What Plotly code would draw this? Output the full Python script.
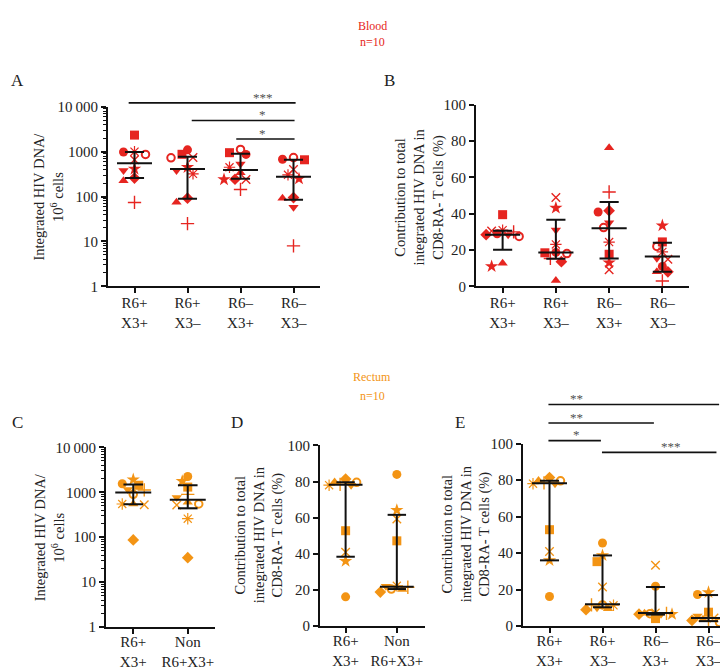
import math
import plotly.graph_objects as go

W, H = 728, 670
RED = "#E62520"
ORANGE = "#F39414"
INK = "#111111"
TXT = "#222222"
FONT = "Liberation Serif"

# ---------------- data ----------------
patient_symbols = ["circle", "square", "triangle-up", "triangle-down", "diamond",
                   "circle-open", "x-thin-open", "cross-thin-open", "asterisk-open", "star"]

blood_categories = ["R6+<br>X3+", "R6+<br>X3–", "R6–<br>X3+", "R6–<br>X3–"]
rectum_categories_two = ["R6+<br>X3+", "Non<br>R6+X3+"]
rectum_categories_four = ["R6+<br>X3+", "R6+<br>X3–", "R6–<br>X3+", "R6–<br>X3–"]

log_tick_vals = [1, 10, 100, 1000, 10000]
log_tick_text = ["1", "10", "100", "1000", "10\u2009000"]
pct_tick_vals = [0, 20, 40, 60, 80, 100]

# Panel A: integrated HIV DNA / 10^6 cells (blood)
a_r6p_x3p = [985, 2340, 226, 380, 259, 870, 660, 74, 1000, 412]
a_r6p_x3m = [1100, 875, 75, 380, 92, 730, 740, 25, 320, 450]
a_r6m_x3p = [870, 950, 340, 530, 243, 1120, 240, 144, 450, 240]
a_r6m_x3m = [680, 660, 92, 58, 95, 740, 400, 8, 305, 250]
a_median = [550, 410, 390, 275]
a_q1 = [260, 89, 250, 85]
a_q3 = [985, 770, 900, 660]

# Panel B: contribution (%) (blood)
b_r6p_x3p = [29, 39.5, 12.7, 28.5, 28.5, 27.5, 30.5, 30, 31, 11]
b_r6p_x3m = [18.7, 18.5, 3.2, 31, 13.6, 18.1, 48.9, 15.4, 23.1, 43.2]
b_r6m_x3p = [41, 17.7, 76.3, 35.1, 41.7, 32.4, 9.1, 52, 24.4, 13.1]
b_r6m_x3m = [11, 24.5, 8, 15.5, 8, 22, 15, 3, 19, 33.5]
b_median = [28.5, 18.7, 32, 16.5]
b_q1 = [20.2, 15.2, 15.4, 8]
b_q3 = [30.6, 36.7, 46.5, 24]

# Panel C: integrated HIV DNA / 10^6 cells (rectum)
c_r6p_x3p = [1550, 1440, 550, 1160, 87, 905, 530, 1130, 550, 1920]
c_non = [2260, 1310, 600, 770, 35, 550, 520, 900, 259, 1770]
c_median = [990, 680]
c_q1 = [540, 440]
c_q3 = [1490, 1440]

# Panel D: contribution (%) (rectum)
d_r6p_x3p = [16.2, 52.8, 79.8, 78, 81.4, 79.6, 40.9, 78.5, 78, 36]
d_non = [84, 47.2, 20.2, 22, 18.8, 20.5, 59.3, 21.5, 22.3, 64.2]
d_median = [78.2, 21.8]
d_q1 = [38.4, 20.5]
d_q3 = [79.6, 61.6]

# Panel E: contribution (%) by subset (rectum)
e_r6p_x3p = [16.2, 52.8, 79.8, 78, 81.4, 79.6, 40.9, 78.5, 78, 36]
e_r6p_x3m = [45.5, 35.3, 9.5, 10, 9, 11.6, 21.4, 11.6, 11.4, 38.7]
e_r6m_x3p = [21.8, 4.1, 7, 6.5, 6.5, 6.8, 33.3, 7, 7.3, 6.5]
e_r6m_x3m = [17.3, 7.6, 3.7, 5.5, 3.1, 2, 4.4, 2.9, 4.2, 18.5]
e_median = [78.2, 11.9, 7.1, 4.4]
e_q1 = [36, 10.3, 6.3, 2.7]
e_q3 = [79.6, 38.7, 21.4, 17]

# ---------------- layout geometry (pixels) ----------------
# box = (left, top, right, bottom)
panels = {
    "A": dict(ax="", box=(100, 93, 312, 277), xr=(-0.5, 3.5), log=True, yr=(0, 4),
              groups=[a_r6p_x3p, a_r6p_x3m, a_r6m_x3p, a_r6m_x3m],
              med=a_median, q1=a_q1, q3=a_q3, color=RED, cats=blood_categories, so=-3),
    "B": dict(ax="2", box=(468, 91, 681, 277), xr=(-0.5, 3.5), log=False, yr=(0, 100),
              groups=[b_r6p_x3p, b_r6p_x3m, b_r6m_x3p, b_r6m_x3m],
              med=b_median, q1=b_q1, q3=b_q3, color=RED, cats=blood_categories, so=-3),
    "C": dict(ax="3", box=(98, 442, 207, 626), xr=(-0.5, 1.5), log=True, yr=(0, 4),
              groups=[c_r6p_x3p, c_non],
              med=c_median, q1=c_q1, q3=c_q3, color=ORANGE, cats=rectum_categories_two, so=-5),
    "D": dict(ax="4", box=(312, 440, 417, 625), xr=(-0.5, 1.55), log=False, yr=(0, 100),
              groups=[d_r6p_x3p, d_non],
              med=d_median, q1=d_q1, q3=d_q3, color=ORANGE, cats=rectum_categories_two, so=-5),
    "E": dict(ax="5", box=(515, 438, 727, 625), xr=(-0.5, 3.5), log=False, yr=(0, 100),
              groups=[e_r6p_x3p, e_r6p_x3m, e_r6m_x3p, e_r6m_x3m],
              med=e_median, q1=e_q1, q3=e_q3, color=ORANGE, cats=rectum_categories_four, so=-5),
}


def px2paper(px, py):
    return px / W, 1 - py / H


def y_to_px(p, v):
    l, t, r, b = p["box"]
    y0, y1 = p["yr"]
    val = math.log10(v) if p["log"] else v
    return b - (val - y0) / (y1 - y0) * (b - t)


def x_to_px(p, v):
    l, t, r, b = p["box"]
    x0, x1 = p["xr"]
    return l + (v - x0) / (x1 - x0) * (r - l)


def swarm_offsets(p, vals, diam=7.0, step=5.5, kmax=3):
    """Simple deterministic beeswarm: spread overlapping points sideways."""
    l, t, r, b = p["box"]
    unit_px = (r - l) / (p["xr"][1] - p["xr"][0])
    ypix = [y_to_px(p, v) for v in vals]
    order = sorted(range(len(vals)), key=lambda i: ypix[i])
    cands = [0]
    for k in range(1, kmax + 1):
        cands += [-k, k]
    placed, offs = [], [0.0] * len(vals)
    for i in order:
        best, best_d = 0, -1
        for k in cands:
            dx = k * step
            dmin = min([math.hypot(dx - a, ypix[i] - c) for a, c in placed] or [1e9])
            if dmin >= diam:
                best = dx
                break
            if dmin > best_d + 0.5:
                best, best_d = dx, dmin
        placed.append((best, ypix[i]))
        offs[i] = best / unit_px
    return offs


sizes = [9, 9, 9, 9, 9, 7.5, 8.5, 9.5, 9.5, 10]
line_widths = [0, 0, 0, 0, 0, 2, 1.4, 1.4, 1.2, 0]

fig = go.Figure()
layout_axes = {}

for name, p in panels.items():
    ax = p["ax"]
    xa, ya = "x" + ax, "y" + ax
    l, t, r, b = p["box"]
    xd = [l / W, r / W]
    yd = [1 - b / H, 1 - t / H]

    for g, vals in enumerate(p["groups"]):
        offs = swarm_offsets(p, vals)
        fig.add_trace(go.Scatter(
            x=[g + o for o in offs], y=vals, mode="markers", xaxis=xa, yaxis=ya,
            cliponaxis=False, hoverinfo="skip",
            marker=dict(symbol=patient_symbols, color=p["color"], size=sizes,
                        line=dict(color=p["color"], width=line_widths), opacity=1)))

    bx, by = [], []
    for g in range(len(p["groups"])):
        m, lo, hi = p["med"][g], p["q1"][g], p["q3"][g]
        bx += [g - 0.33, g + 0.33, None, g, g, None, g - 0.18, g + 0.18, None, g - 0.18, g + 0.18, None]
        by += [m, m, None, lo, hi, None, lo, lo, None, hi, hi, None]
    fig.add_trace(go.Scatter(x=bx, y=by, mode="lines", xaxis=xa, yaxis=ya,
                             line=dict(color=INK, width=2), hoverinfo="skip",
                             connectgaps=False))

    xkey = "xaxis" + ax
    ykey = "yaxis" + ax
    layout_axes[xkey] = dict(
        domain=xd, range=list(p["xr"]), anchor=ya, tickmode="array",
        tickvals=list(range(len(p["cats"]))), ticktext=p["cats"],
        showline=True, linecolor=INK, linewidth=2, ticks="outside", ticklen=5,
        tickwidth=2, tickcolor=INK, showgrid=False, zeroline=False,
        ticklabelstandoff=p["so"],
        tickfont=dict(family=FONT, size=15, color=TXT), fixedrange=True)
    yax = dict(
        domain=yd, anchor=xa, showline=True, linecolor=INK, linewidth=2,
        ticks="outside", ticklen=5, tickwidth=2, tickcolor=INK, showgrid=False,
        zeroline=False, tickfont=dict(family=FONT, size=15, color=TXT), fixedrange=True)
    if p["log"]:
        minor_vals = [k * 10 ** d for d in range(0, 4) for k in range(2, 10)]
        yax.update(type="log", range=list(p["yr"]), tickmode="array",
                   tickvals=log_tick_vals, ticktext=log_tick_text,
                   minor=dict(tickmode="array", tickvals=minor_vals, ticks="outside",
                              ticklen=3, tickwidth=1, tickcolor=INK, showgrid=False))
    else:
        yax.update(type="linear", range=list(p["yr"]), tickmode="array",
                   tickvals=pct_tick_vals, ticktext=[str(v) for v in pct_tick_vals])
    layout_axes[ykey] = yax

annotations = []
shapes = []


def text(px, py, s, size=14, color=TXT, angle=0, xanchor="center"):
    x, y = px2paper(px, py)
    annotations.append(dict(x=x, y=y, xref="paper", yref="paper", text=s,
                            showarrow=False, textangle=angle, xanchor=xanchor,
                            yanchor="middle", font=dict(family=FONT, size=size, color=color)))


# headers
text(364, 10, "Blood", 12, RED)
text(364, 27, "n=10", 12, RED)
text(364, 370, "Rectum", 12, ORANGE)
text(364, 389, "n=10", 12, ORANGE)

# panel letters
for letter, (px, py) in {"A": (9, 66), "B": (381, 66), "C": (9, 416),
                         "D": (229, 416), "E": (452, 416)}.items():
    text(px, py, letter, 17, TXT)

# y-axis titles
ytitle_log = "Integrated HIV DNA/<br>10<sup>6</sup> cells"
ytitle_pct = "Contribution to total<br>integrated HIV DNA in<br>CD8-RA- T cells (%)"
text(41, 185, ytitle_log, 14.5, TXT, -90)
text(412, 186, ytitle_pct, 14.5, TXT, -90)
text(41, 534, ytitle_log, 14.5, TXT, -90)
text(251, 532, ytitle_pct, 14.5, TXT, -90)
text(458, 531, ytitle_pct, 14.5, TXT, -90)

# significance brackets: (panel, x_start, x_end, line_py, label, label_x)
sig_marks = [
    ("A", -0.11, 3.04, 89, "***", 2.42),
    ("A", 1.08, 3.02, 107, "*", 2.42),
    ("A", 1.92, 3.02, 126, "*", 2.42),
    ("E", -0.02, 3.2, 398, "**", 0.5),
    ("E", -0.02, 1.97, 417, "**", 0.5),
    ("E", -0.02, 0.97, 435, "*", 0.5),
    ("E", 0.99, 3.15, 447, "***", 2.3),
]
for pn, xs, xe, py, lab, lx in sig_marks:
    p = panels[pn]
    x0 = x_to_px(p, xs)
    x1 = x_to_px(p, xe)
    a0, yy = px2paper(x0, py)
    a1, _ = px2paper(x1, py)
    shapes.append(dict(type="line", xref="paper", yref="paper", x0=a0, x1=a1, y0=yy, y1=yy,
                       line=dict(color=INK, width=1.6)))
    text(x_to_px(p, lx), py - 6, lab, 13, "#505050")

fig.update_layout(
    width=W, height=H, margin=dict(l=0, r=0, t=0, b=0),
    paper_bgcolor="white", plot_bgcolor="white", showlegend=False,
    font=dict(family=FONT, color=TXT),
    annotations=annotations, shapes=shapes, **layout_axes)

fig.write_html("out.html")
